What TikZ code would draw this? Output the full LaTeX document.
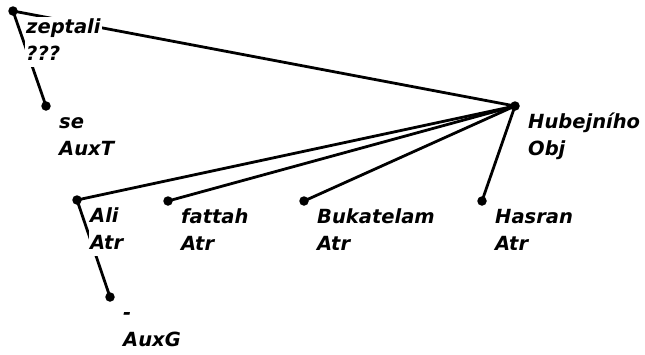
\documentclass[tikz,border=0pt]{standalone}
\usepackage{fontspec}
\setmainfont{DejaVu Sans}
\pgfdeclarelayer{back}
\pgfdeclarelayer{edges}
\pgfsetlayers{back,edges,main}
\newcommand\twolines[2]{\rule{0pt}{16pt}#1\\#2\rule[-6pt]{0pt}{6pt}}
\begin{document}
\begin{tikzpicture}[x=1pt,y=-1pt,
  edge/.style={line width=2.8pt,black},
  dotnode/.style={circle,fill=black,inner sep=0pt,minimum size=9.5pt},
  lbl/.style={anchor=north west,fill=white,inner xsep=1pt,inner ysep=0pt,align=left,
    font=\fontsize{19.5}{27.5}\selectfont\bfseries\itshape}]
\begin{pgfonlayer}{back}
\fill[white] (0,0) rectangle (645,354);
\end{pgfonlayer}
\useasboundingbox (0,0) rectangle (645,354);
% dots
\node[dotnode] (zep) at (13,11) {};
\node[dotnode] (se) at (46,106) {};
\node[dotnode] (hub) at (515,106) {};
\node[dotnode] (ali) at (77,200) {};
\node[dotnode] (fat) at (168,201) {};
\node[dotnode] (buk) at (304,201) {};
\node[dotnode] (has) at (482,201) {};
\node[dotnode] (auxg) at (110,297) {};
% labels
\node[lbl] (zepL) at (25,17) {\twolines{zeptali}{???}};
\node[lbl] (seL) at (58,112) {\twolines{se}{AuxT}};
\node[lbl] (hubL) at (527,112) {\twolines{Hubejního}{Obj}};
\node[lbl] (aliL) at (89,206) {\twolines{Ali}{Atr}};
\node[lbl] (fatL) at (180,207) {\twolines{fattah}{Atr}};
\node[lbl] (bukL) at (316,207) {\twolines{Bukatelam}{Atr}};
\node[lbl] (hasL) at (494,207) {\twolines{Hasran}{Atr}};
\node[lbl] (auxgL) at (122,303) {\twolines{-}{AuxG}};
% edges
\begin{pgfonlayer}{edges}
\draw[edge] (zep.center) -- (hub.center);
\draw[edge] (zep.center) -- (se.center);
\draw[edge] (hub.center) -- (ali.center);
\draw[edge] (hub.center) -- (fat.center);
\draw[edge] (hub.center) -- (buk.center);
\draw[edge] (hub.center) -- (has.center);
\draw[edge] (ali.center) -- (auxg.center);
\end{pgfonlayer}
\end{tikzpicture}
\end{document}
